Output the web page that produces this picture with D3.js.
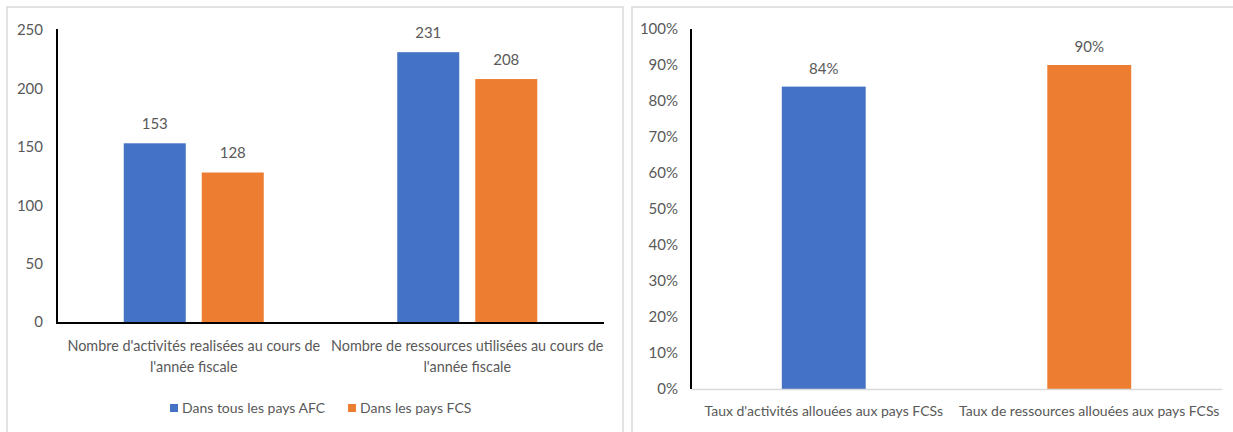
<!DOCTYPE html>
<html><head><meta charset="utf-8">
<script src="https://cdn.jsdelivr.net/npm/d3@7"></script>
<style>body{margin:0;background:#fff}svg{display:block}text{font-family:Lato,"Noto Sans",sans-serif;fill:#595959}</style>
</head><body>
<svg id="c" width="1233" height="432"></svg>
<script>
// ---- data ----
const leftCategories = [
  ["Nombre d'activités realisées au cours de", "l'année fiscale"],
  ["Nombre de ressources utilisées au cours de", "l'année fiscale"]
];
const leftSeriesNames = ["Dans tous les pays AFC", "Dans les pays FCS"];
const leftAFC = [153, 231];
const leftFCS = [128, 208];
const leftTicks = [0, 50, 100, 150, 200, 250];

const rightCategories = ["Taux d'activités allouées aux pays FCSs", "Taux de ressources allouées aux pays FCSs"];
const rightValues = [0.84, 0.90];
const rightTicks = [0, 0.1, 0.2, 0.3, 0.4, 0.5, 0.6, 0.7, 0.8, 0.9, 1.0];

const colors = ["#4472C4", "#ED7D31"];

const svg = d3.select("#c");
svg.append("rect").attr("width",1233).attr("height",432).attr("fill","#fff");
// panel frames
svg.append("rect").attr("x",7).attr("y",7).attr("width",616).attr("height",440)
  .attr("fill","none").attr("stroke","#d9d9d9").attr("stroke-width",1.5);
svg.append("rect").attr("x",632).attr("y",7).attr("width",700).attr("height",440)
  .attr("fill","none").attr("stroke","#d9d9d9").attr("stroke-width",1.5);

// ---- left chart ----
{
  const x = d3.scaleBand().domain(d3.range(leftCategories.length)).range([57,604]).padding(0);
  const y = d3.scaleLinear().domain([0,250]).range([322,30]);
  const groupW = x.bandwidth()*0.512;
  const xs = d3.scaleBand().domain([0,1]).range([0,groupW]).paddingInner(0.205).paddingOuter(0);
  const g = svg.append("g");
  const ya = g.append("g").attr("transform","translate(57,0)")
    .call(d3.axisLeft(y).tickValues(leftTicks).tickSize(0).tickPadding(14));
  ya.select(".domain").remove();
  ya.selectAll("text").style("font-family","Lato").style("font-size","15px").attr("fill","#595959");
  const series = [leftAFC, leftFCS];
  series.forEach((vals,si)=>{
    vals.forEach((v,ci)=>{
      const bx = x(ci)+ (x.bandwidth()-groupW)/2 + xs(si);
      g.append("rect").attr("x",bx).attr("y",y(v)).attr("width",xs.bandwidth())
        .attr("height",y(0)-y(v)).attr("fill",colors[si]);
      g.append("text").attr("x",bx+xs.bandwidth()/2).attr("y",y(v)-14)
        .attr("text-anchor","middle").style("font-size","15px").text(v);
    });
  });
  g.append("line").attr("x1",57).attr("x2",57).attr("y1",y(250)-1).attr("y2",y(0)).attr("stroke","#000").attr("stroke-width",2);
  g.append("line").attr("x1",56).attr("x2",604).attr("y1",y(0)+1).attr("y2",y(0)+1).attr("stroke","#000").attr("stroke-width",2);
  leftCategories.forEach((lines,ci)=>{
    const t = g.append("text").attr("text-anchor","middle").style("font-size","14.4px");
    lines.forEach((ln,li)=>{
      t.append("tspan").attr("x",x(ci)+x.bandwidth()/2).attr("y",351+li*21).text(ln);
    });
  });
  const legX = [170, 348];
  leftSeriesNames.forEach((n,i)=>{
    g.append("rect").attr("x",legX[i]).attr("y",404).attr("width",8).attr("height",8).attr("fill",colors[i]);
    g.append("text").attr("x",legX[i]+12).attr("y",413).style("font-size","14px").text(n);
  });
}

// ---- right chart ----
{
  const x = d3.scaleBand().domain(d3.range(rightCategories.length)).range([691,1222]).padding(0);
  const y = d3.scaleLinear().domain([0,1]).range([389,29]);
  const g = svg.append("g");
  const ya = g.append("g").attr("transform","translate(691,0)")
    .call(d3.axisLeft(y).tickValues(rightTicks).tickSize(0).tickPadding(13).tickFormat(d3.format(".0%")));
  ya.select(".domain").remove();
  ya.selectAll("text").style("font-family","Lato").style("font-size","15px").attr("fill","#595959");
  const bw = x.bandwidth()*0.316;
  rightValues.forEach((v,ci)=>{
    const bx = x(ci)+(x.bandwidth()-bw)/2;
    g.append("rect").attr("x",bx).attr("y",y(v)).attr("width",bw).attr("height",y(0)-y(v)).attr("fill",colors[ci]);
    g.append("text").attr("x",bx+bw/2).attr("y",y(v)-13).attr("text-anchor","middle").style("font-size","15px")
      .text(d3.format(".0%")(v));
  });
  g.append("line").attr("x1",691).attr("x2",1222).attr("y1",y(0)+0.5).attr("y2",y(0)+0.5).attr("stroke","#d9d9d9").attr("stroke-width",1.5);
  g.append("line").attr("x1",691).attr("x2",691).attr("y1",y(1)).attr("y2",y(0)).attr("stroke","#000").attr("stroke-width",2);
  rightCategories.forEach((c,ci)=>{
    g.append("text").attr("x",x(ci)+x.bandwidth()/2).attr("y",416).attr("text-anchor","middle").style("font-size","14px").text(c);
  });
}
</script>
</body></html>
